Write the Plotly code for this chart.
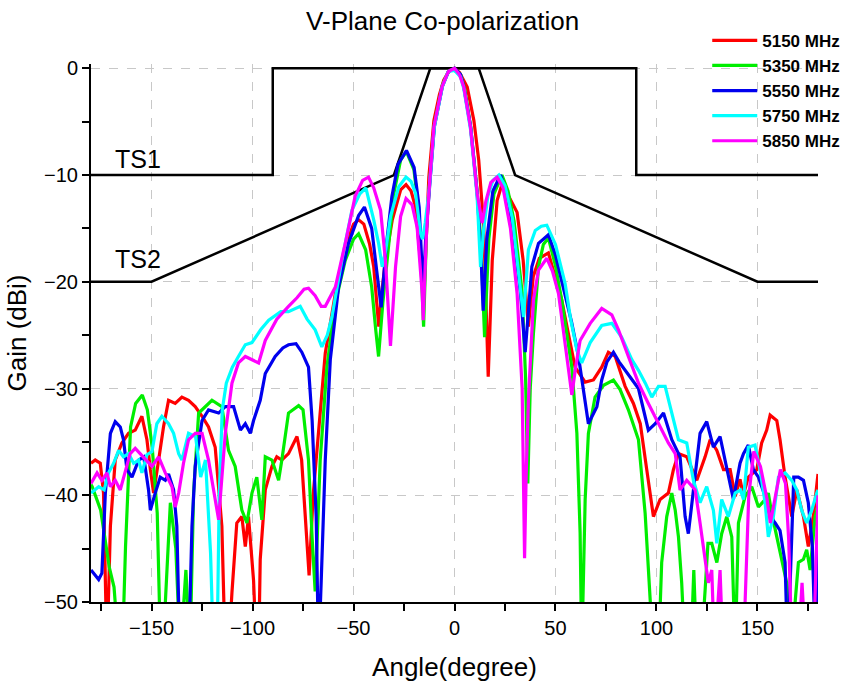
import plotly.graph_objects as go

# measured patterns, angle (deg) / gain (dBi); -55 = below the plotted range
ang_5150 = [-180, -177.9, -175.4, -173.8, -172.1, -170.4, -168, -164.7, -161.4, -158.1, -154.8, -152.3,
            -150.6, -149, -146.5, -144.1, -141.6, -138.3, -135, -131.7, -128.4, -125, -121.8, -118.5,
            -115.2, -113.5, -112, -110.2, -107.8, -105.3, -103.6, -102, -99.5, -98, -97, -96.2, -93.7,
            -90.4, -88, -85.5, -82.2, -78, -75.7, -74, -72, -70, -67.3, -64, -59, -54.1, -50, -47.5,
            -44.9, -42, -40, -37.5, -36, -34.2, -30.8, -26.7, -24, -21.5, -19.3, -16.8, -15.2, -14,
            -12.7, -10.2, -7.5, -5.3, -2.5, 0, 2.5, 6.3, 9.6, 12, 14.5, 16.7, 18.7, 21.1, 23.6, 26.9,
            31, 34, 36.6, 39, 42, 46.5, 50, 53.1, 56, 59.7, 64.7, 68.8, 72.9, 76.2, 79.6, 84.5, 88.6,
            92, 95.2, 98.5, 101.8, 105.9, 108.4, 110.9, 115, 120, 124.1, 126.6, 129.9, 133.2, 136.5,
            139, 141.4, 143, 145.5, 149.7, 152.1, 154.6, 156.3, 159.6, 161.2, 163.7, 167, 169.5,
            172.8, 175.2, 177.7, 180]
gain_5150 = [-37, -36.7, -37, -39.8, -55, -42.9, -36.7, -35.1, -34.2, -33.9, -32.6, -34.8,
             -37.6, -39.8, -36.7, -33.6, -31.1, -31.4, -30.8, -31.1, -31.7, -32.6, -33.6, -35.5,
             -42.9, -55, -55, -49.1, -42.6, -42, -44.8, -42, -48, -55, -55, -46, -39.5,
             -37.3, -36.4, -36.7, -36.1, -34.5, -36.7, -42, -47.5, -40, -33.6, -26.7, -21.1, -16.7, -14.6, -14.2,
             -14.6, -16.5, -18.6, -24.2, -21, -18, -14.2, -11.4, -10.9, -11.5, -13, -18, -21.5, -16,
             -10.2, -4.9, -2.5, -1.1, -0.2, 0, -0.4, -1.75, -4.9, -8.6, -14.9, -28.9, -18, -12.4, -10.8, -12,
             -13.5, -18, -24.2, -19.5, -17.8, -17.3, -19.5, -21.7, -24.5, -28, -29.4, -29.2, -28, -26.6, -27, -29.8, -31.4,
             -33.3, -37.6, -42, -40.4, -39.8, -37.6, -36.1, -36.4, -38.6, -36.4, -34.8, -35.8, -37.6, -37.6,
             -40.1, -38.5, -40, -38.3, -37.6, -35.1, -33.9, -32.5, -33, -34.8, -38.3, -42, -39.5,
             -42, -44.8, -42, -38]

ang_5350 = [-180, -179.4, -175.2, -171, -168.6, -166, -164.5, -162.9, -160.4, -157.9, -154.6, -152.1,
            -149.7, -147.2, -145.5, -144.5, -140.7, -138, -135.8, -133, -131, -129.2, -126.7, -123.4,
            -120.1, -115.2, -111.9, -108.6, -105.3, -102.8, -100.3, -97.9, -95.4, -93.7, -90.4, -87.1,
            -85.5, -82.2, -77.2, -75, -72.3, -70.5, -69, -66.5, -63.2, -59, -54.1, -50, -47.5, -44,
            -41, -39, -37.6, -35.5, -33.3, -30, -26.7, -23.8, -20.1, -17.7, -15.3, -13.8, -12.5, -10,
            -6, -3, 0, 3, 5, 8, 11.2, 13, 14.9, 17, 19.5, 23.5, 26.5, 29.5, 33.5, 35.2, 36.3, 37.5,
            39.1, 41.6, 44, 46.5, 50, 53.1, 58.1, 60.6, 62.2, 63, 64.7, 66.3, 69.6, 73.8, 78.7, 82,
            86.1, 91.1, 94.4, 96.9, 98.5, 101, 102.6, 105.1, 107.6, 109.3, 110.9, 112.5, 114.2, 117,
            118.5, 120, 122, 124.1, 125.5, 127.4, 129.9, 132.3, 134.8, 137.3, 139, 140.6, 143.9,
            147.2, 150.5, 153.8, 155.4, 157.1, 159.6, 162, 164.5, 166.5, 170.3, 172.8, 174.4, 176.1,
            178.6, 180]
gain_5350 = [-39, -39.2, -41.4, -46.7, -48.6, -55, -55, -44.8, -33.6, -31.4, -30.6, -32,
             -35.5, -41.7, -55, -55, -40.7, -45, -55, -47, -55, -39.8, -32.3, -31.7,
             -31.1, -31.7, -35.8, -37.3, -41.4, -42.6, -39.8, -38.3, -42.3, -36.4, -36.7, -38.6,
             -36.7, -32.3, -31.6, -32, -36.7, -44, -49, -36.7, -28, -22, -18, -16, -15.5, -17,
             -20.5, -24.5, -27, -22, -18, -11.7, -8.6, -7.8, -9.5, -13.3, -24.2, -15, -11, -5.3,
             -1.6, -0.3, 0, -0.6, -1.9, -5.5, -11.5, -16, -25.2, -16, -11.8, -10, -11.5, -14.3, -21, -29, -38.9, -30,
             -24.8, -18.6, -16.5, -15.9, -18.5, -21.7, -28, -34.2, -43.5, -55, -40.4, -34.2, -30.8, -29.7, -29.2, -30.1,
             -32, -34.8, -41.7, -48.6, -55, -55, -46.3, -42, -39.8, -41.4, -43.9, -48.2, -55, -55,
             -47, -55, -55, -48.9, -44.5, -44.5, -46.3, -43.6, -42, -43.9, -55, -42.6, -40.1,
             -39.2, -41.1, -40.4, -39.8, -41.7, -43.9, -45.8, -48.2, -55, -46.3, -46, -45.1, -47,
             -42, -41]

ang_5550 = [-180, -176.2, -174.6, -172.9, -170.4, -168, -165.5, -163.9, -162.2, -159.7, -156.4, -153.9,
            -151.5, -150.6, -148.2, -145.7, -143.2, -141.6, -139.1, -137.5, -136, -133, -131.7, -130,
            -128.4, -125, -121.8, -116.8, -113.5, -109.4, -106, -103.6, -101.1, -99.5, -96.2, -93.7,
            -88.8, -85, -82.2, -78.5, -75.6, -72.3, -70.5, -68.5, -67.3, -66, -64, -61.5, -57.4, -52.5,
            -47.5, -44.6, -41, -38.5, -36.3, -34, -31, -28, -23.8, -20, -17.5, -15.5, -14.3, -12.5, -10,
            -6, -3, 0, 3, 4.6, 8, 11.2, 13, 14.2, 16, 19, 22.8, 25.5, 28.6, 32.7, 35, 36.5, 38.3, 41.6,
            46.5, 50, 54.8, 58, 61.4, 64, 66.3, 70.5, 72.9, 75.5, 78.7, 81.5, 84.5, 88, 91.1, 96, 99.4,
            103.5, 107.6, 111.7, 114.2, 115.8, 118.3, 121.6, 124.9, 128.2, 131.5, 134.8, 138.1, 141.4,
            143.1, 145.5, 148, 150.5, 153.8, 156.3, 158.8, 161.2, 163.7, 165, 167, 168, 170.3, 172.8,
            175.2, 177.2, 178.8, 180]
gain_5550 = [-47, -47.9, -47.3, -39.8, -34.2, -33.1, -33.6, -34.8, -37.6, -38.3, -36.7, -36.4,
             -39.5, -41.4, -39.8, -38.3, -38.6, -38, -39.5, -42.9, -55, -55, -55, -42.9,
             -37.3, -33, -32, -32.3, -31.7, -31.7, -33.9, -33.3, -34.2, -33, -31.1, -28.6,
             -27, -26.2, -25.9, -25.8, -26.6, -28, -33, -42, -55, -48, -36.7, -27.3, -20.5, -16.4,
             -13.8, -13, -15, -19, -22.4, -17, -12, -9, -7.7, -9.3, -13, -21, -16, -11.5, -5.5,
             -1.7, -0.3, 0, -0.6, -1.75, -5.5, -11.7, -17, -22.7, -16, -11.5, -10, -11.5, -14.7, -21.1, -26.6, -23, -18.6, -16.4,
             -15.6, -17.5, -21.1, -23.8, -27, -30.5, -33.3, -31.7, -29.2, -27.5, -26.6, -27.5, -28.3, -29.3, -30, -33.9, -33.3,
             -32.3, -34.8, -36.4, -42, -43.6, -39.5, -34.2, -33.1, -35.5, -34.5, -37.3, -40.4, -37,
             -36.1, -35.3, -37.6, -38.3, -40.1, -42, -42.6, -43.3, -46.3, -55, -45, -38.3, -38.3, -38.6,
             -40.7, -44.8, -55, -44]

ang_5750 = [-180, -176.2, -173.5, -171.3, -168.8, -166.3, -163.9, -161.4, -158.9, -156.4, -154.8, -152.3,
            -149.8, -147.4, -144.9, -141.6, -139.1, -136.6, -135, -131.7, -128.2, -125.7, -123.3, -120.8,
            -119.3, -117.6, -116.5, -115, -113, -110, -107, -103.6, -100.3, -96, -92, -86, -82.2, -79,
            -76.4, -73, -69, -65.7, -63, -60.7, -55.8, -50.8, -47, -43.9, -40, -37.5, -35.8, -34, -31.7,
            -27.6, -24, -21.5, -19.3, -16.8, -15.8, -14.5, -12.5, -10, -6, -3, 0, 3, 4.6, 8, 11.2, 12.9,
            14.5, 16.5, 19, 22, 25, 28.6, 31.8, 34.2, 36.6, 40, 43, 45.7, 50, 54.8, 57.5, 60.6, 63, 67.2,
            72.9, 77.9, 82.8, 87.8, 91.1, 94.5, 97.7, 101, 104.3, 107.6, 110.9, 115, 118.3, 121.6, 124.9,
            128.2, 129.9, 132.3, 135.6, 139, 141.6, 143.1, 145.5, 148.8, 151.3, 153.8, 155.4, 157.9,
            160.4, 163.7, 167, 169.5, 171.9, 174.4, 176.9, 179.4, 180]
gain_5750 = [-39.8, -39.2, -39.5, -37.9, -37, -35.8, -36.4, -36.1, -37, -36.7, -37.9, -36.2,
             -35.9, -33.3, -32.6, -33.3, -34.2, -36.1, -36.7, -34.2, -34.5, -38.3, -36.7, -45.4,
             -55, -55, -40, -32, -29.5, -28, -27, -25.9, -25.7, -24.5, -23.6, -22.8, -22.8, -22.5,
             -22.3, -23.5, -24.5, -26.1, -25, -23.3, -18, -13.3, -11.8, -11.2, -14.2, -16.5, -18.6, -17, -13.9,
             -11.1, -10.2, -10.6, -11.7, -15.5, -16, -14.5, -11.3, -5.5, -1.7, -0.3, -0.2, -0.8, -1.9, -5.8, -12, -18.6,
             -15, -12, -10.5, -10, -11, -14, -19.6, -23.3, -17, -15.2, -14.8, -14.7, -16.5, -20.2, -23.5, -26.4, -27.6, -25.7,
             -24.1, -23.9, -25.2, -27.3, -28.3, -29.5, -30.8, -29.8, -29.8, -32.3, -34.8, -35.1, -38.6, -40.7, -39.2,
             -41.4, -44.5, -40.4, -42, -39.8, -39.5, -40.4, -35.5, -35.3, -37.6, -40.7, -43.9, -42,
             -38.3, -37.9, -38.6, -39.5, -41.4, -42.6, -41.4, -39.8, -39.5]

ang_5850 = [-180, -177, -174.6, -172.1, -170.4, -168, -165.5, -163, -160.6, -158.1, -155.6, -153.1,
            -149.8, -146.5, -143.2, -139.9, -138.3, -136.6, -134.2, -131.7, -128.4, -125, -121.8, -116.8,
            -113.5, -110.2, -107, -103.6, -100.3, -97, -93.7, -88, -82.2, -78, -74.5, -72.3, -69, -66,
            -64, -59, -54.1, -49.2, -45.5, -42.6, -40, -36.6, -34.2, -31.7, -29.2, -26.7, -24, -21,
            -18.5, -16, -15.5, -14, -12.7, -10.2, -6.1, -3, 0, 2.5, 4.6, 7.9, 11.2, 13.7, 15.5, 18, 21.1,
            24, 27.7, 31, 33.5, 34.7, 35.5, 36.6, 39.1, 41.6, 45.7, 48.5, 51.5, 55.6, 58.1, 60, 62.2,
            67.2, 72.9, 77.9, 81.2, 86.1, 91.1, 96, 101, 105.9, 109.3, 111.7, 115, 119.2, 121.6, 124.1,
            125.7, 127.4, 128.8, 131.5, 133, 143, 145.7, 148.2, 151.5, 154.8, 156.4, 158.9, 161.4,
            163.9, 165.5, 167.2, 170, 172.1, 174, 177.7, 179.5, 180]
gain_5850 = [-38.9, -37.9, -38.6, -37.9, -39.2, -38.6, -39.5, -37.9, -36.1, -35.6, -36.1, -36.7,
             -37.3, -36.4, -37.9, -39.2, -41.1, -39.8, -37, -34.8, -34.2, -34.2, -36.7, -42.3,
             -34.2, -29.5, -27.6, -27, -27.3, -27.6, -25.5, -23.5, -22.3, -21.5, -20.7, -20.6, -21.3, -22.3,
             -22.3, -20.5, -16.4, -12, -10.5, -10.2, -11.2, -13.3, -18, -26, -18.6, -13.9, -12.2, -12.8,
             -14.9, -21.1, -23.6, -16, -11.7, -5.5, -1.7, -0.3, 0, -0.6, -1.75, -5.5, -11.7, -14.5, -12.5, -10.7, -10.2,
             -11.2, -15, -21.1, -30, -45.9, -38, -31.1, -21.7, -18.9, -17.8, -19, -21.1, -27.3, -30.6, -28, -25.5,
             -23.9, -22.5, -23.1, -24.5, -27, -29.5, -31.4, -33.3, -35.1, -36.1, -39.5, -38.6, -39.5, -42.6, -46.3,
             -48.2, -47, -55, -47, -55, -55, -40.1, -35.9, -37.3, -40.4, -42.6, -40.1, -37.6,
             -38.9, -44.2, -55, -55, -48.2, -55, -55, -41.7, -40]

# limit masks
ts1_ang = [-180, -90, -90, 90, 90, 180]
ts1_gain = [-10, -10, 0, 0, -10, -10]
ts2_ang = [-180, -150, -30, -12, 12, 30, 150, 180]
ts2_gain = [-20, -20, -10, 0, 0, -10, -20, -20]

series = [("5150 MHz", ang_5150, gain_5150, "#ff0000"),
          ("5350 MHz", ang_5350, gain_5350, "#00ee00"),
          ("5550 MHz", ang_5550, gain_5550, "#0000ee"),
          ("5750 MHz", ang_5750, gain_5750, "#00ffff"),
          ("5850 MHz", ang_5850, gain_5850, "#ff00ff")]

fig = go.Figure()
fig.add_trace(go.Scatter(x=ts1_ang, y=ts1_gain, mode="lines", showlegend=False,
                         line=dict(color="black", width=2.5)))
fig.add_trace(go.Scatter(x=ts2_ang, y=ts2_gain, mode="lines", showlegend=False,
                         line=dict(color="black", width=2.5)))
for name, a, g, c in series:
    fig.add_trace(go.Scatter(x=a, y=g, mode="lines", name=name,
                             line=dict(color=c, width=3.2)))

fig.add_annotation(x=-156.5, y=-8.5, text="TS1", showarrow=False, font=dict(size=25, color="black"))
fig.add_annotation(x=-156.5, y=-17.9, text="TS2", showarrow=False, font=dict(size=25, color="black"))

axis_common = dict(showline=True, linecolor="black", linewidth=2, ticks="outside", ticklen=7,
                   tickwidth=2, tickcolor="black", showgrid=True, gridcolor="#c8c8c8",
                   griddash="dash", gridwidth=1, zeroline=False, mirror=False, automargin=False,
                   tickfont=dict(size=20, color="black"))

fig.update_xaxes(range=[-180, 180], dtick=50, tick0=0,
                 minor=dict(dtick=25, tick0=0, ticks="outside", ticklen=7, tickwidth=2,
                            tickcolor="black", showgrid=False),
                 title=dict(text="Angle(degree)", font=dict(size=26, color="black"), standoff=20),
                 **axis_common)
fig.update_yaxes(range=[-50, 0.4], dtick=10, tick0=0,
                 minor=dict(dtick=5, tick0=0, ticks="outside", ticklen=7, tickwidth=2,
                            tickcolor="black", showgrid=False),
                 title=dict(text="Gain (dBi)", font=dict(size=26, color="black"), standoff=10),
                 **axis_common)

fig.update_layout(
    width=848, height=691,
    margin=dict(l=91, r=30, t=64, b=89, autoexpand=False),
    plot_bgcolor="white", paper_bgcolor="white",
    font=dict(family="Liberation Sans, Arial, sans-serif", color="black"),
    title=dict(text="V-Plane Co-polarization", x=0.522, xanchor="center", y=0.97, yanchor="middle",
               font=dict(size=26, color="black")),
    legend=dict(xref="container", yref="container", x=0.834, xanchor="left", y=0.967, yanchor="top",
                bgcolor="rgba(0,0,0,0)",
                font=dict(size=17, family="Liberation Sans, Arial, sans-serif", color="black",
                          weight="bold"),
                itemwidth=45, tracegroupgap=0),
)

fig.write_html("out.html", config={"displayModeBar": False},
               post_script="document.body.style.margin='0';")
